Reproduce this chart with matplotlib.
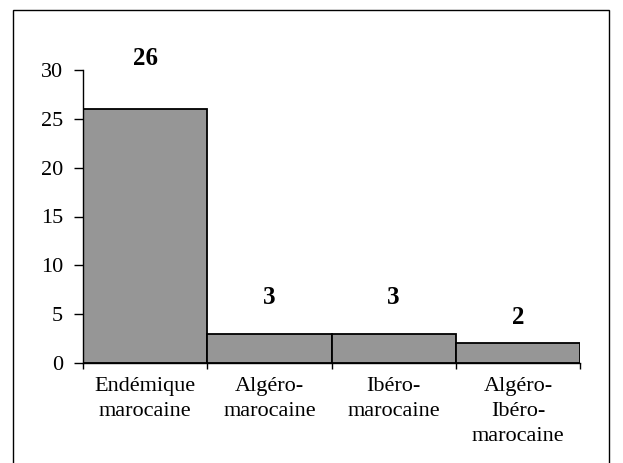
import matplotlib
matplotlib.use("Agg")
import matplotlib.pyplot as plt
from matplotlib.patches import Rectangle
import numpy as np

categories = ["Endémique\nmarocaine", "Algéro-\nmarocaine", "Ibéro-\nmarocaine", "Algéro-\nIbéro-\nmarocaine"]
values = [26, 3, 3, 2]
yticks = [0, 5, 10, 15, 20, 25, 30]

plt.rcParams['font.family'] = ['Liberation Serif', 'DejaVu Serif']

fig = plt.figure(figsize=(6.23, 4.63), dpi=100)
ax = fig.add_axes([83/623, 1-363/463, (580-83)/623, (363-70)/463])

x = np.arange(len(values))
ax.bar(x, values, width=1.0, color="#969696", edgecolor="black", linewidth=1.3, zorder=2)

offs = {26: 51, 3: 36, 2: 26}
for xi, v in zip(x, values):
    ax.annotate(str(v), (xi, v), xytext=(0, offs[v]), textcoords='offset pixels',
                ha='center', va='center', fontsize=18, fontweight='bold')

ax.set_xlim(-0.5, len(values) - 0.5)
ax.set_ylim(0, 30)
ax.set_yticks(yticks)
ax.set_yticklabels([str(t) for t in yticks], fontsize=16)
ax.tick_params(axis='y', direction='out', length=6.5, width=1, pad=8)

ax.set_xticks(np.arange(len(values) + 1) - 0.5)
ax.set_xticklabels([])
ax.tick_params(axis='x', which='major', direction='out', length=4.5, width=1)
ax.set_xticks(x, minor=True)
ax.set_xticklabels(categories, minor=True, fontsize=16, linespacing=1.42, va='top')
ax.tick_params(axis='x', which='minor', length=0, pad=10)

ax.spines['top'].set_visible(False)
ax.spines['right'].set_visible(False)
ax.spines['left'].set_linewidth(1)
ax.spines['bottom'].set_linewidth(1)

fig.patches.append(Rectangle((13/623, -0.05), (609-13)/623, 1-10/463+0.05,
                             transform=fig.transFigure, fill=False, edgecolor='black',
                             linewidth=1, figure=fig))

fig.savefig("out.png", dpi=100)
